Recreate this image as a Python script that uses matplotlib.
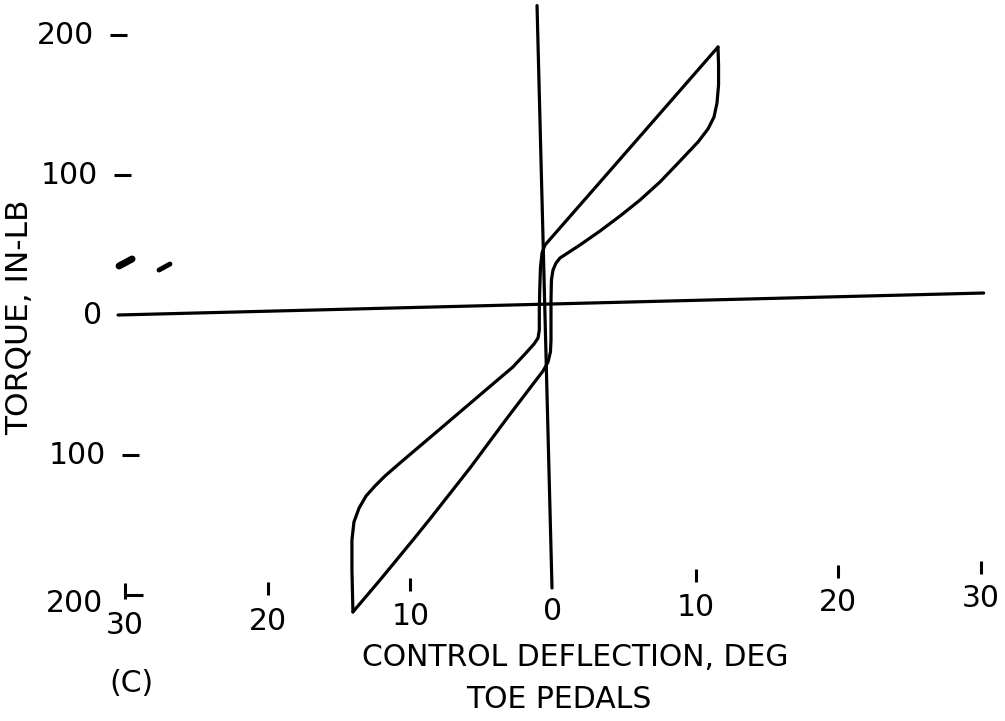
import matplotlib
matplotlib.use("Agg")
import matplotlib.pyplot as plt

# ---------------- data ----------------
ytick_values = [200, 100, 0, -100, -200]
ytick_labels = ["200", "100", "0", "100", "200"]
xtick_values = [-30, -20, -10, 0, 10, 20, 30]
xtick_labels = ["30", "20", "10", "0", "10", "20", "30"]

# loading branch (deflection increasing), deg / in-lb
up_deg = [-14.03, -12.13, -9.82, -8.63, -5.82, -3.37, -1.61, -0.70, -0.35, -0.18,
          -0.14, -0.14, -0.11, 0.00, 0.21, 0.49, 1.89, 3.30, 4.70, 6.10,
          7.50, 8.91, 10.17, 10.87, 11.29, 11.50, 11.61, 11.61, 11.57]
up_torque = [-212.1, -189.3, -160.7, -145.7, -109.3, -75.7, -52.1, -40.0, -33.6, -26.4,
             -17.9, 10.7, 25.0, 32.1, 37.1, 40.7, 50.0, 60.0, 70.7, 82.1,
             95.0, 110.0, 123.6, 132.9, 141.4, 151.4, 164.3, 178.6, 191.4]

# unloading branch (deflection decreasing)
down_deg = [11.57, 4.00, -0.56, -0.77, -0.88, -0.93, -0.96, -0.96, -1.05, -1.33,
            -2.03, -2.81, -5.12, -7.92, -10.73, -11.78, -12.48, -13.11, -13.60,
            -13.96, -14.10, -14.10, -14.03]
down_torque = [191.4, 103.1, 50.0, 44.3, 33.6, 17.9, 3.6, -10.7, -16.4, -20.7,
               -28.6, -37.1, -57.1, -81.4, -105.7, -115.0, -122.1, -129.3, -137.9,
               -147.9, -160.7, -182.1, -212.1]

# reference axes as drawn on the (slightly rotated) original
hline_deg = [-30.5, 30.2]
hline_torque = [0.0, 15.7]
vline_deg = [-1.12, -0.07]
vline_torque = [221.0, -195.0]

# specks on the scan
speck1_deg = [-30.43, -29.52]
speck1_torque = [35.0, 40.0]
speck2_deg = [-27.63, -26.86]
speck2_torque = [32.1, 36.4]

# ---------------- layout helpers (pixel -> data for text placement) ----------------
X0, SX = 553.0, 14.26   # pixel of 0 deg, px per deg
Y0, SY = 315.0, 1.40    # pixel of 0 in-lb, px per in-lb
W, H = 1005, 721


def px2x(px):
    return (px - X0) / SX


def py2y(py):
    return (Y0 - py) / SY


def x2px(x):
    return X0 + SX * x


def y2py(y):
    return Y0 - SY * y


fig = plt.figure(figsize=(W / 100, H / 100), dpi=100)
ax = fig.add_axes([0, 0, 1, 1])
ax.set_xlim(px2x(0), px2x(W))
ax.set_ylim(py2y(H), py2y(0))
ax.axis("off")

LW = 2.3
FS = 21.5
kw = dict(color="black", lw=LW, solid_joinstyle="round", solid_capstyle="round")

# axis lines
ax.plot(hline_deg, hline_torque, **kw)
ax.plot(vline_deg, vline_torque, **kw)

# hysteresis loop
ax.plot(up_deg, up_torque, **kw)
ax.plot(down_deg, down_torque, **kw)

# specks
ax.plot(speck1_deg, speck1_torque, color="black", lw=5, solid_capstyle="round")
ax.plot(speck2_deg, speck2_torque, color="black", lw=3.5, solid_capstyle="round")

TILT = 0.028

# y ticks: labels and dashes
for v, lab in zip(ytick_values, ytick_labels):
    py = y2py(v)
    right = 94 + TILT * (py - 35)
    if v == -200:
        ax.text(px2x(103), py2y(603), lab, ha="right", va="center", fontsize=FS)
    else:
        ax.text(px2x(right), v, lab, ha="right", va="center", fontsize=FS)
    if v != 0:
        start = 110 + TILT * (py - 35)
        ax.plot([px2x(start), px2x(start + 17)], [v, v], color="black", lw=2.2,
                solid_capstyle="butt")

# x ticks: marks and labels
for v, lab in zip(xtick_values, xtick_labels):
    px = x2px(v)
    ty = 612 - 0.0325 * (px - X0)
    ax.text(v, py2y(ty), lab, ha="center", va="center", fontsize=FS)
    if v == 0:
        continue
    mc = 580 - 0.03 * (px - X0)
    if v == -30:
        ax.plot([v, v], [py2y(583), py2y(599)], color="black", lw=2.2, solid_capstyle="butt")
    else:
        ax.plot([v, v], [py2y(mc - 6.5), py2y(mc + 6.5)], color="black", lw=2.2,
                solid_capstyle="butt")

# axis titles
ax.text(px2x(20), py2y(317), "TORQUE, IN-LB", rotation=90, ha="center", va="center",
        fontsize=FS + 1)
ax.text(px2x(575), py2y(658), "CONTROL DEFLECTION, DEG", ha="center", va="center",
        fontsize=FS)
ax.text(px2x(559), py2y(699), "TOE PEDALS", ha="center", va="center", fontsize=FS)
ax.text(px2x(131), py2y(683), "(C)", ha="center", va="center", fontsize=FS)

fig.savefig("out.png", dpi=100)
